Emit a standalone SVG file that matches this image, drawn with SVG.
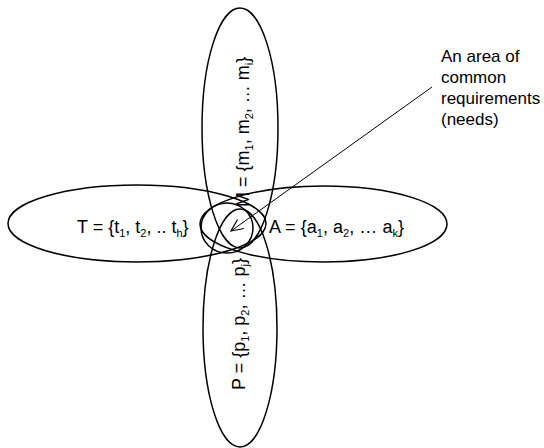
<svg xmlns="http://www.w3.org/2000/svg" width="544" height="448" viewBox="0 0 544 448">
<style>
.e{fill:none;stroke:#000;stroke-width:1.5}
.t{font-family:"Liberation Sans",Arial,sans-serif;font-size:18px;fill:#000}
.s{font-size:11px}
.c{font-family:"Liberation Sans",Arial,sans-serif;font-size:17px;fill:#000}
</style>
<defs>
<marker id="arr" markerUnits="userSpaceOnUse" markerWidth="16" markerHeight="14" refX="13" refY="6" orient="auto">
<path d="M1,0.5 L13,6 L1,11.5" fill="none" stroke="#000" stroke-width="1.2"/>
</marker>
</defs>
<rect width="544" height="448" fill="#fff"/>
<g id="T">
<ellipse class="e" cx="137" cy="223.5" rx="129" ry="38.5"/>
<text class="t" x="77" y="233">T = {t<tspan class="s" dy="4">1</tspan><tspan dy="-4">, t</tspan><tspan class="s" dy="4">2</tspan><tspan dy="-4">, .. t</tspan><tspan class="s" dy="4">h</tspan><tspan dy="-4">}</tspan></text>
</g>
<g id="A">
<ellipse class="e" cx="323.5" cy="224" rx="123.5" ry="38"/>
<text class="t" x="269" y="233" textLength="135" lengthAdjust="spacing">A = {a<tspan class="s" dy="4">1</tspan><tspan dy="-4">, a</tspan><tspan class="s" dy="4">2</tspan><tspan dy="-4">, … a</tspan><tspan class="s" dy="4">k</tspan><tspan dy="-4">}</tspan></text>
</g>
<g id="M">
<ellipse class="e" cx="240" cy="128" rx="38" ry="120"/>
<text class="t" transform="translate(249,207) rotate(-90)" x="0" y="0">M = {m<tspan class="s" dy="4">1</tspan><tspan dy="-4">, m</tspan><tspan class="s" dy="4">2</tspan><tspan dy="-4">, … m</tspan><tspan class="s" dy="4">i</tspan><tspan dy="-4">}</tspan></text>
</g>
<g id="P">
<ellipse class="e" cx="240" cy="328" rx="37" ry="119"/>
<text class="t" transform="translate(245,390) rotate(-90)" x="0" y="0">P = {p<tspan class="s" dy="4">1</tspan><tspan dy="-4">, p</tspan><tspan class="s" dy="4">2</tspan><tspan dy="-4">, … p</tspan><tspan class="s" dy="4">j</tspan><tspan dy="-4">}</tspan></text>
</g>
<g id="common">
<ellipse class="e" cx="227" cy="228" rx="26" ry="25"/>
</g>
<g id="note">
<text class="c" x="441" y="62">An area of</text>
<text class="c" x="441" y="83">common</text>
<text class="c" x="441" y="104">requirements</text>
<text class="c" x="441" y="125">(needs)</text>
</g>
<g id="connectors">
<line x1="432" y1="87" x2="231" y2="231" stroke="#000" stroke-width="1" marker-end="url(#arr)"/>
</g>
</svg>
